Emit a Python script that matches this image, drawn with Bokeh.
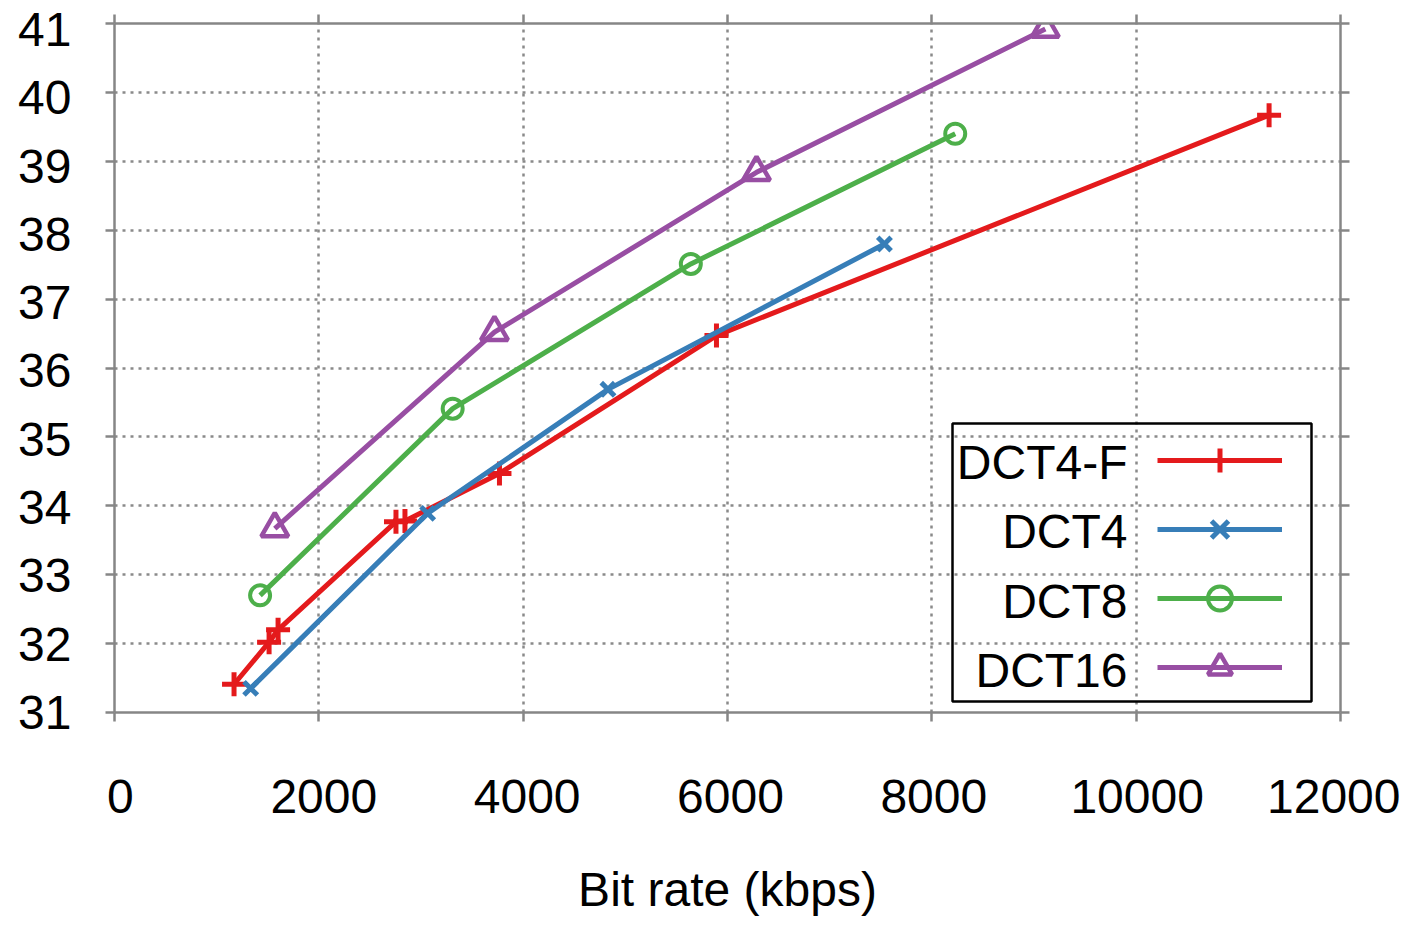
from bokeh.plotting import figure
from bokeh.models import (LinearAxis, FixedTicker, Legend, LegendItem, Label,
                          BoxAnnotation, Range1d)
from bokeh.embed import file_html
from bokeh.resources import INLINE

# ---- data ----
dct4f_x = [1170, 1513, 1601, 2755, 2843, 3768, 5892, 11301]
dct4f_y = [31.41, 32.02, 32.20, 33.77, 33.78, 34.47, 36.47, 39.67]

dct4_x = [1333, 3065, 4830, 7536]
dct4_y = [31.35, 33.89, 35.69, 37.80]

dct8_x = [1425, 3310, 5641, 8229]
dct8_y = [32.70, 35.41, 37.51, 39.40]

dct16_x = [1569, 3719, 6284, 9111]
dct16_y = [33.67, 36.52, 38.84, 40.92]

series_names = ["DCT4-F", "DCT4", "DCT8", "DCT16"]
x_ticks = [0, 2000, 4000, 6000, 8000, 10000, 12000]
y_ticks = [31, 32, 33, 34, 35, 36, 37, 38, 39, 40, 41]
x_label = "Bit rate (kbps)"

FONT = "Liberation Sans"
AXIS_GRAY = "#868686"
FW, FH = 1226, 689
X0, X1, Y0, Y1 = 0, 12000, 31, 41

p = figure(frame_width=FW, frame_height=FH,
           min_border_left=114, min_border_right=60,
           min_border_top=23, min_border_bottom=210,
           x_range=Range1d(X0, X1), y_range=Range1d(Y0, Y1),
           output_backend="svg", toolbar_location=None,
           background_fill_color="white", border_fill_color="white")
p.outline_line_color = None

# label-only ranges: tick labels sit a few pixels right of / below their ticks
dx = 6 * (X1 - X0) / FW
dy = 6 * (Y1 - Y0) / FH
p.extra_x_ranges = {"xlab": Range1d(X0 - dx, X1)}
p.extra_y_ranges = {"ylab": Range1d(Y0, Y1 + dy)}


def tick_axis(ax, ticks):
    ax.ticker = FixedTicker(ticks=ticks)
    ax.axis_line_color = AXIS_GRAY
    ax.axis_line_width = 2.5
    ax.major_tick_line_color = AXIS_GRAY
    ax.major_tick_line_width = 2.5
    ax.major_tick_out = 9
    ax.major_tick_in = 0
    ax.minor_tick_line_color = None
    ax.major_label_overrides = {t: "" for t in ticks}
    ax.major_label_text_font_size = "1px"
    ax.major_label_standoff = 0


def label_axis(ax, ticks, standoff):
    ax.ticker = FixedTicker(ticks=ticks)
    ax.axis_line_color = None
    ax.major_tick_line_color = None
    ax.minor_tick_line_color = None
    ax.major_tick_out = 0
    ax.major_tick_in = 0
    ax.major_label_text_font = FONT
    ax.major_label_text_font_size = "48px"
    ax.major_label_text_color = "black"
    ax.major_label_standoff = standoff


# main axes: lines and ticks only
tick_axis(p.xaxis[0], x_ticks)
tick_axis(p.yaxis[0], y_ticks)
for loc, tk in (("above", x_ticks), ("right", y_ticks)):
    ax = LinearAxis()
    tick_axis(ax, tk)
    p.add_layout(ax, loc)

# label axes
xl = LinearAxis(x_range_name="xlab")
label_axis(xl, x_ticks, 58)
xl.axis_label = x_label
xl.axis_label_text_font = FONT
xl.axis_label_text_font_size = "48px"
xl.axis_label_text_font_style = "normal"
xl.axis_label_text_color = "black"
xl.axis_label_standoff = 47
p.add_layout(xl, "below")

yl = LinearAxis(y_range_name="ylab")
label_axis(yl, y_ticks, 34)
p.add_layout(yl, "left")

# grid
p.xgrid.ticker = FixedTicker(ticks=x_ticks)
p.ygrid.ticker = FixedTicker(ticks=y_ticks)
for g in (p.xgrid[0], p.ygrid[0]):
    g.grid_line_color = "#8a8a8a"
    g.grid_line_width = 2.5
    g.grid_line_dash = "3 5"

RED, BLUE, GREEN, PURPLE = "#E41A1C", "#377EB8", "#4DAF4A", "#984EA3"

r1l = p.line(dct4f_x, dct4f_y, line_color=RED, line_width=5)
r1m = p.scatter(dct4f_x, dct4f_y, marker="cross", size=24, line_color=RED, line_width=5)
r2l = p.line(dct4_x, dct4_y, line_color=BLUE, line_width=5)
r2m = p.scatter(dct4_x, dct4_y, marker="x", size=19, line_color=BLUE, line_width=5)
r3l = p.line(dct8_x, dct8_y, line_color=GREEN, line_width=5)
r3m = p.scatter(dct8_x, dct8_y, marker="circle", size=20, line_color=GREEN,
                line_width=4, fill_color="white", fill_alpha=0)
r4l = p.line(dct16_x, dct16_y, line_color=PURPLE, line_width=5)
r4m = p.scatter(dct16_x, dct16_y, marker="triangle", size=27, line_color=PURPLE,
                line_width=4.5, fill_color="white", fill_alpha=0)

# legend: box, right-aligned text labels, glyph column on the right
box = BoxAnnotation(left=838, right=1197, bottom=11, top=289,
                    left_units="screen", right_units="screen",
                    bottom_units="screen", top_units="screen",
                    fill_alpha=0, fill_color=None,
                    line_color="black", line_alpha=1.0, line_width=2.5)
p.add_layout(box)

legend = Legend(items=[LegendItem(label=" ", renderers=[r1l, r1m]),
                       LegendItem(label=" ", renderers=[r2l, r2m]),
                       LegendItem(label=" ", renderers=[r3l, r3m]),
                       LegendItem(label=" ", renderers=[r4l, r4m])],
                location=(1043, 15), orientation="vertical",
                glyph_width=125, glyph_height=60, spacing=9,
                label_text_font_size="8px", label_standoff=0, label_width=1,
                label_height=1, padding=0, margin=0,
                border_line_color=None, background_fill_alpha=0)
p.add_layout(legend, "center")

label_y = [250, 181, 111, 42]
for name, ly in zip(series_names, label_y):
    p.add_layout(Label(x=1013, y=ly, x_units="screen", y_units="screen",
                       text=name, text_align="right", text_baseline="middle",
                       text_font=FONT, text_font_size="48px", text_color="black"))

open("out.html", "w").write(file_html(p, INLINE))
